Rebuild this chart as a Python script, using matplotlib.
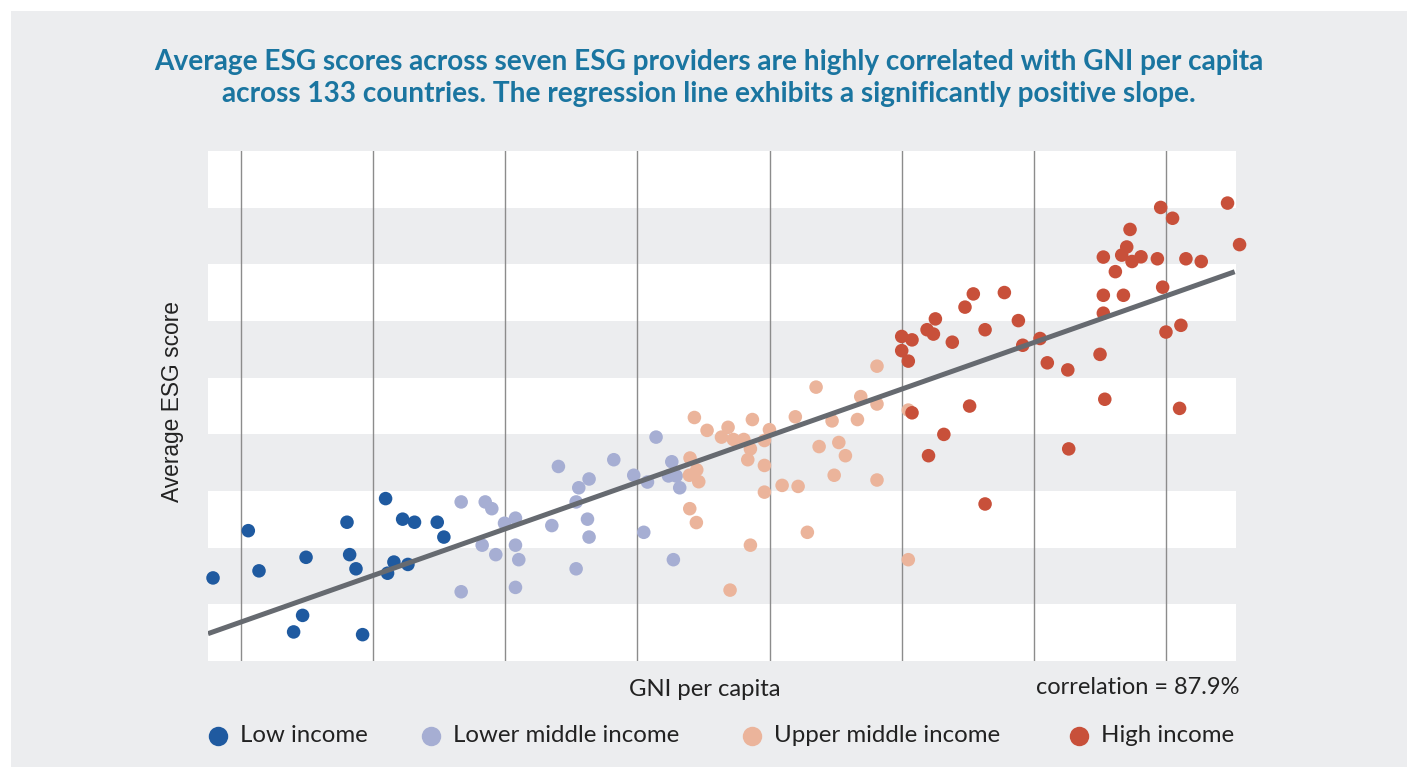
import numpy as np
import matplotlib.pyplot as plt
from matplotlib.patches import Rectangle
from matplotlib.lines import Line2D

# income groups, colours and scatter values (x = log GNI grid units, y = score band units)
groups = ['Low income', 'Lower middle income', 'Upper middle income', 'High income']
colors = ['#1f5aa0', '#a6aed3', '#ebb49b', '#c8503a']

low_x = [0.788, 1.055, 1.136, 1.398, 1.466, 1.492, 1.802, 1.822, 1.870, 1.920,
         2.094, 2.109, 2.157, 2.223, 2.263, 2.313, 2.485, 2.535]
low_y = [1.466, 2.300, 1.591, 0.513, 0.805, 1.830, 2.449, 1.877, 1.627, 0.465,
         2.866, 1.549, 1.746, 2.503, 1.704, 2.449, 2.449, 2.187]

lmid_x = [2.666, 2.666, 2.848, 2.898, 2.825, 2.928, 2.994, 3.077, 3.077, 3.102,
          3.077, 3.352, 3.402, 3.536, 3.556, 3.634, 3.622, 3.634, 3.536, 3.821,
          3.972, 4.076, 4.141, 4.260, 4.235, 4.293, 4.320, 4.048, 4.272]
lmid_y = [2.807, 1.222, 2.807, 2.688, 2.044, 1.877, 2.431, 2.521, 2.044, 1.788,
          1.299, 2.390, 3.433, 2.807, 3.057, 3.212, 2.503, 2.187, 1.627, 3.552,
          3.278, 3.158, 3.951, 3.516, 3.266, 3.266, 3.057, 2.271, 1.788]

umid_x = [4.431, 4.527, 4.636, 4.686, 4.726, 4.805, 4.870, 4.855, 4.835, 4.961,
          4.999, 4.961, 4.398, 4.449, 4.393, 4.464, 4.961, 4.396, 4.446, 4.855,
          4.701, 5.095, 5.216, 5.195, 5.352, 5.375, 5.473, 5.524, 5.574, 5.489,
          5.286, 5.665, 5.690, 5.813, 5.813, 5.813, 6.050, 6.050]
umid_y = [4.297, 4.070, 3.951, 4.124, 3.909, 3.909, 4.261, 3.743, 3.552, 3.891,
          4.082, 3.451, 3.582, 3.373, 3.278, 3.164, 2.980, 2.688, 2.443, 2.044,
          1.251, 3.099, 3.081, 4.309, 4.833, 3.784, 4.237, 3.856, 3.623, 3.278,
          2.271, 4.261, 4.666, 4.535, 5.203, 3.194, 4.428, 1.788]

high_x = [6.000, 6.078, 6.000, 6.050, 6.078, 6.192, 6.255, 6.240, 6.383, 6.479,
          6.542, 6.777, 6.631, 6.883, 6.916, 7.047, 7.102, 6.514, 6.319, 6.203,
          6.631, 7.257, 7.264, 7.501, 7.537, 7.526, 7.526, 7.526, 7.617, 7.678,
          7.665, 7.703, 7.728, 7.743, 7.811, 7.935, 7.960, 8.050, 7.975, 8.000,
          8.113, 8.103, 8.151, 8.267, 8.466, 8.557]
high_y = [5.727, 5.667, 5.477, 5.292, 4.380, 5.846, 6.037, 5.769, 5.626, 6.245,
          6.478, 6.502, 5.846, 6.007, 5.572, 5.691, 5.262, 4.499, 3.999, 3.623,
          2.771, 5.137, 3.743, 5.411, 4.619, 6.454, 7.128, 6.138, 6.871, 6.454,
          7.163, 7.306, 7.616, 7.050, 7.133, 7.098, 8.004, 7.813, 6.597, 5.805,
          5.924, 4.458, 7.098, 7.050, 8.081, 7.348]

# regression line
reg_intercept = -0.134
reg_slope = 0.822
correlation = 87.9

xs = [low_x, lmid_x, umid_x, high_x]
ys = [low_y, lmid_y, umid_y, high_y]

fig = plt.figure(figsize=(14.07, 7.67), dpi=100)
fig.patch.set_facecolor('white')
fig.patches.append(Rectangle((11 / 1407, 0), 1, 1 - 11 / 767, transform=fig.transFigure,
                             facecolor='#ecedef', edgecolor='none', zorder=-5))

ax = fig.add_axes([208 / 1407, 1 - 661 / 767, 1028 / 1407, 510 / 767])
ax.set_xlim(0.75, 8.53)
ax.set_ylim(0, 9)
ax.set_facecolor('white')
ax.set_zorder(1)

# alternating horizontal bands
for i in range(9):
    if i % 2 == 1:
        ax.axhspan(i, i + 1, color='#ecedef', lw=0, zorder=0)
for v in range(1, 9):
    ax.axvline(v, color='#8c8c8c', lw=1.0, zorder=1)

for gx, gy, c in zip(xs, ys, colors):
    ax.scatter(gx, gy, s=95, color=c, edgecolors='none', zorder=3, clip_on=False)

lx = np.array([0.75, 8.52])
ax.plot(lx, reg_intercept + reg_slope * lx, color='#666a70', lw=3.6,
        solid_capstyle='butt', zorder=4)

for s in ax.spines.values():
    s.set_visible(False)
ax.set_xticks([])
ax.set_yticks([])

fig.text(0.504, 1 - 62 / 767, 'Average ESG scores across seven ESG providers are highly correlated with GNI per capita',
         ha='center', va='center', fontsize=20.2, fontweight='bold', color='#1a75a0', family='Lato')
fig.text(0.504, 1 - 94 / 767, 'across 133 countries. The regression line exhibits a significantly positive slope.',
         ha='center', va='center', fontsize=20.2, fontweight='bold', color='#1a75a0', family='Lato')

fig.text(172 / 1407, 1 - 402 / 767, 'Average ESG score', rotation=90, ha='center', va='center',
         fontsize=16.4, color='#222222', family='Liberation Sans')
fig.text(705 / 1407, 1 - 690 / 767, 'GNI per capita', ha='center', va='center',
         fontsize=17.2, color='#222222', family='Lato')
fig.text(1240 / 1407, 1 - 687 / 767, 'correlation = %.1f%%' % correlation, ha='right', va='center',
         fontsize=17, color='#222222', family='Lato')

# legend row
leg_x = [218, 431, 752, 1079]
for px, name, c in zip(leg_x, groups, colors):
    fig.add_artist(Line2D([px / 1407], [1 - 736 / 767], transform=fig.transFigure, marker='o',
                          ms=14, color=c, markeredgewidth=0, linestyle='none'))
    fig.text((px + 22) / 1407, 1 - 736 / 767, name, ha='left', va='center',
             fontsize=17.3, color='#222222', family='Lato')

fig.savefig('out.png', dpi=100, facecolor=fig.get_facecolor())
